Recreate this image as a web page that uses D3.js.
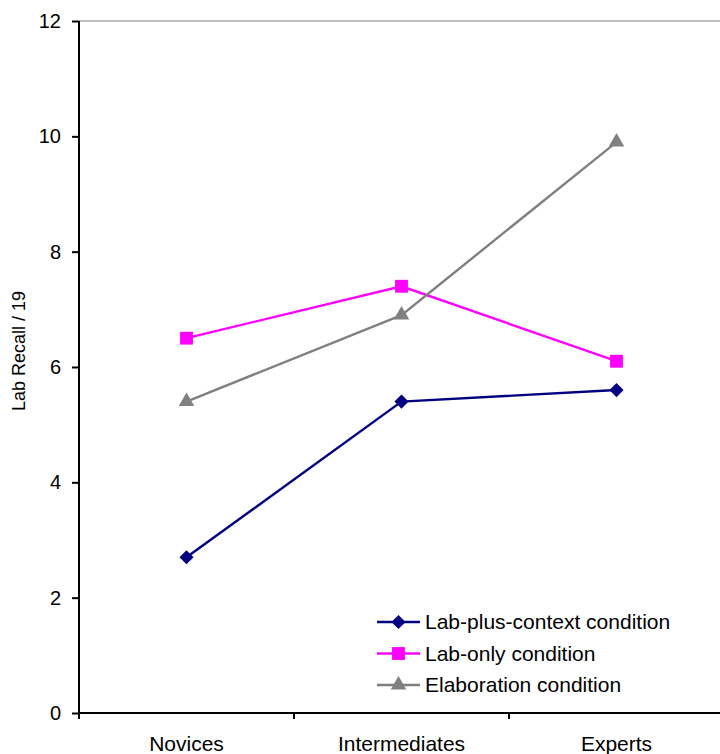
<!DOCTYPE html>
<html>
<head>
<meta charset="utf-8">
<script src="https://cdn.jsdelivr.net/npm/d3@7"></script>
<style>
  html, body { margin: 0; padding: 0; background: #fff; }
  svg { display: block; font-family: "Liberation Sans", Arial, sans-serif; }
</style>
</head>
<body>
<svg id="chart" width="720" height="754"></svg>
<script>
// Recall scores per expertise group
const groups = ["Novices", "Intermediates", "Experts"];
const labPlusContext = [2.7, 5.4, 5.6];
const labOnly = [6.5, 7.4, 6.1];
const elaboration = [5.4, 6.9, 9.9];
const yTicks = [0, 2, 4, 6, 8, 10, 12];

// square turned 45 degrees, the classic spreadsheet diamond marker
const squatDiamond = {
  draw(ctx, size) {
    const r = Math.sqrt(size / 2);
    ctx.moveTo(0, -r); ctx.lineTo(r, 0); ctx.lineTo(0, r); ctx.lineTo(-r, 0); ctx.closePath();
  }
};

const series = [
  { name: "Lab-plus-context condition", values: labPlusContext, color: "#000080", symbol: squatDiamond, size: 100 },
  { name: "Lab-only condition", values: labOnly, color: "#ff00ff", symbol: d3.symbolSquare, size: 165 },
  { name: "Elaboration condition", values: elaboration, color: "#808080", symbol: d3.symbolTriangle, size: 105 }
];

const svg = d3.select("#chart");
const plotLeft = 79, plotRight = 724, plotTop = 21, plotBottom = 713;

const x = d3.scaleBand().domain(groups).range([plotLeft, plotRight]);
const y = d3.scaleLinear().domain([0, 12]).range([plotBottom, plotTop]);

// top gridline
svg.append("line")
  .attr("x1", plotLeft).attr("x2", 720)
  .attr("y1", y(12)).attr("y2", y(12))
  .attr("stroke", "#c0c0c0").attr("stroke-width", 2);

// y axis
const yAxis = svg.append("g")
  .attr("transform", `translate(${plotLeft},0)`)
  .call(d3.axisLeft(y).tickValues(yTicks).tickSize(7).tickPadding(11).tickFormat(d3.format("d")));
yAxis.select(".domain").attr("stroke", "#000").attr("stroke-width", 2).attr("d", `M0,${plotTop}V${plotBottom + 6}`);
yAxis.selectAll(".tick line").attr("stroke", "#000").attr("stroke-width", 2);
yAxis.selectAll(".tick text").attr("font-size", 20).attr("fill", "#000")
  .attr("font-family", "Liberation Sans, Arial, sans-serif");

// x axis: ticks between categories
svg.append("line")
  .attr("x1", plotLeft - 1).attr("x2", plotRight)
  .attr("y1", plotBottom).attr("y2", plotBottom)
  .attr("stroke", "#000").attr("stroke-width", 2);
const bounds = groups.map(g => x(g)).concat([plotRight]);
svg.selectAll(".xtick").data(bounds).enter().append("line")
  .attr("x1", d => d).attr("x2", d => d)
  .attr("y1", plotBottom).attr("y2", plotBottom + 6)
  .attr("stroke", "#000").attr("stroke-width", 2);
svg.selectAll(".xlabel").data(groups).enter().append("text")
  .attr("x", d => x(d) + x.bandwidth() / 2)
  .attr("y", 751)
  .attr("text-anchor", "middle")
  .attr("font-size", 21)
  .text(d => d);

// y axis title
svg.append("text")
  .attr("transform", "translate(25,351) rotate(-90)")
  .attr("text-anchor", "middle")
  .attr("font-size", 18)
  .text("Lab Recall / 19");

const cx = g => x(g) + x.bandwidth() / 2;
const line = d3.line().x((d, i) => cx(groups[i])).y(d => y(d));

// draw in order so the elaboration line sits on top
series.forEach(s => {
  svg.append("path")
    .datum(s.values)
    .attr("d", line)
    .attr("fill", "none")
    .attr("stroke", s.color)
    .attr("stroke-width", 2.4);
  svg.selectAll(null).data(s.values).enter().append("path")
    .attr("transform", (d, i) => `translate(${cx(groups[i])},${y(d)})`)
    .attr("d", d3.symbol().type(s.symbol).size(s.size))
    .attr("fill", s.color);
});

// legend
const legend = svg.append("g");
series.forEach((s, i) => {
  const ly = 622 + i * 31.5;
  legend.append("line")
    .attr("x1", 377).attr("x2", 420).attr("y1", ly).attr("y2", ly)
    .attr("stroke", s.color).attr("stroke-width", 2.4);
  legend.append("path")
    .attr("transform", `translate(398.5,${ly})`)
    .attr("d", d3.symbol().type(s.symbol).size(s.size))
    .attr("fill", s.color);
  legend.append("text")
    .attr("x", 425).attr("y", ly + 7)
    .attr("font-size", 21)
    .text(s.name);
});
</script>
</body>
</html>
